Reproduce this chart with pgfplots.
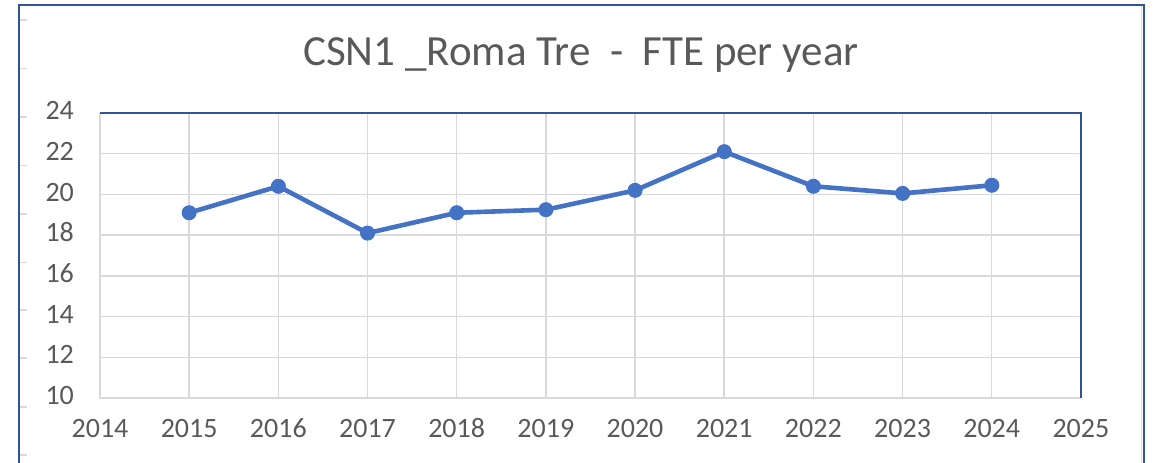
\documentclass[border=0pt]{standalone}
\usepackage{pgfplots}
\pgfplotsset{compat=1.18}
\usepackage{fontspec}
\setmainfont{Carlito}
\definecolor{exblue}{HTML}{4472C4}
\definecolor{txtgray}{HTML}{595959}
\definecolor{gridgray}{HTML}{D9D9D9}
\definecolor{framblue}{HTML}{2F5597}
\begin{document}
\begin{tikzpicture}
\path[use as bounding box] (0,0) rectangle (578.5pt,231pt);
% outer frame
\draw[line width=1pt,framblue] (9.5pt,-5pt) -- (9.5pt,228.5pt) -- (572pt,228.5pt) -- (572pt,-5pt);
\draw[line width=0.5pt,gridgray] (570.7pt,-5pt) -- (570.7pt,228pt);
\foreach \yy in {20,68.5,117,165.5,214,262.5,310,358,407,455}{
  \draw[line width=0.6pt,gridgray] (10pt,{(462-\yy)*0.5pt}) -- (13.5pt,{(462-\yy)*0.5pt});
}
\node[anchor=base,text=txtgray,font=\fontsize{21.5}{25}\selectfont] at (290.5pt,198.5pt) {CSN1 \_Roma Tre \ - \ FTE per year};
\begin{axis}[
  at={(50pt,32pt)}, anchor=south west,
  scale only axis, width=490.5pt, height=142.5pt,
  xmin=2014, xmax=2025, ymin=10, ymax=24,
  xtick={2014,...,2025}, ytick={10,12,...,24},
  /pgf/number format/assume math mode=true,
  xticklabel={\pgfmathprintnumber[1000 sep={},fixed]{\tick}},
  grid=major, major grid style={gridgray,line width=0.75pt},
  axis line style={draw=none},
  major tick length=0pt,
  tick label style={text=txtgray,font=\fontsize{14}{16}\selectfont},
  xticklabel style={anchor=north,text height=9pt,text depth=0pt,yshift=-7.2pt},
  yticklabel style={anchor=east,text height=9pt,text depth=0pt,xshift=-9.5pt,yshift=1.2pt},
  clip=false,
]
\draw[gridgray,line width=0.9pt] (rel axis cs:0,1) -- (rel axis cs:0,0) -- (rel axis cs:1,0);
\draw[framblue,line width=0.6pt] (rel axis cs:0,1) -- (rel axis cs:1,1) -- (rel axis cs:1,0);
\addplot[exblue, line width=2.3pt, mark=*, mark size=3.5pt, mark options={fill=exblue,draw=exblue,line width=0.5pt}] coordinates {
(2015,19.1) (2016,20.4) (2017,18.1) (2018,19.1) (2019,19.25) (2020,20.2) (2021,22.1) (2022,20.4) (2023,20.05) (2024,20.45)
};
\end{axis}
\end{tikzpicture}
\end{document}
